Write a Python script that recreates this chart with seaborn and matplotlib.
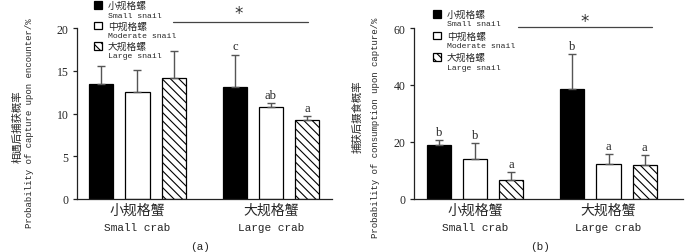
import numpy as np
import pandas as pd
import matplotlib
matplotlib.use("Agg")
import matplotlib.pyplot as plt
from matplotlib.patches import Rectangle
import seaborn as sns

# data
crab = ["小规格蟹", "大规格蟹"]
crab_en = ["Small crab", "Large crab"]
snail = ["小规格螺", "中规格螺", "大规格螺"]
snail_en = ["Small snail", "Moderate snail", "Large snail"]

capture_mean = [13.5, 12.5, 14.2, 13.1, 10.8, 9.2]     # (a) small crab x3, large crab x3
capture_err = [2.1, 2.6, 3.1, 3.8, 0.45, 0.5]
capture_sig = ["", "", "", "c", "ab", "a"]

consume_mean = [18.8, 14.2, 6.5, 38.6, 12.4, 11.8]     # (b)
consume_err = [2.0, 5.3, 3.0, 12.4, 3.3, 3.5]
consume_sig = ["b", "b", "a", "b", "a", "a"]

sns.set_style("ticks")
plt.rcParams["hatch.linewidth"] = 0.8
mono = ["Liberation Mono", "Noto Sans CJK SC"]
cjk = ["Noto Sans CJK SC", "DejaVu Sans"]
serif = "Liberation Serif"

W, H = 700, 253
fig = plt.figure(figsize=(7, 2.53), dpi=100)
ax1 = fig.add_axes([77 / W, 1 - 200 / H, 255 / W, 171 / H])
ax2 = fig.add_axes([414 / W, 1 - 200 / H, 269 / W, 171 / H])

fills = ["black", "white", "white"]
hatches = ["", "", "\\\\\\\\"]


def panel(ax, mean, err, sig, ylim, yticks, xlim, line, star):
    df = pd.DataFrame({
        "crab": np.repeat(crab, 3),
        "snail": snail * 2,
        "val": mean,
    })
    sns.barplot(data=df, x="crab", y="val", hue="snail", order=crab, hue_order=snail,
                palette=fills, width=0.81, gap=0.333, errorbar=None, legend=False,
                edgecolor="black", linewidth=0.9, ax=ax)
    bars = list(ax.containers)
    for h, cont in enumerate(bars):
        for c, bar in enumerate(cont):
            bar.set_hatch(hatches[h])
            i = c * 3 + h
            x = bar.get_x() + bar.get_width() / 2
            top = mean[i] + err[i]
            ax.errorbar(x, mean[i], yerr=[[0], [err[i]]], fmt="none", ecolor="#555555",
                        elinewidth=1.0, capsize=3.2, capthick=1.0, zorder=1)
            if sig[i]:
                ax.annotate(sig[i], (x, top), xytext=(0, 1.5), textcoords="offset points",
                            ha="center", va="bottom", fontsize=9, family=serif)
    ax.set_xlim(xlim)
    ax.set_ylim(ylim)
    ax.set_yticks(yticks)
    ax.set_yticklabels([str(t) for t in yticks], family=serif, fontsize=8.5)
    ax.tick_params(axis="y", length=3, width=0.9, pad=3, color="#222222")
    ax.tick_params(axis="x", length=0, pad=3)
    ax.set_xticks([0, 1])
    ax.set_xticklabels(crab, family=cjk, fontsize=10)
    for k, name in enumerate(crab_en):
        ax.text(k, -0.135, name, transform=ax.get_xaxis_transform(), ha="center", va="top",
                family=mono, fontsize=8)
    sns.despine(ax=ax)
    for s in ["left", "bottom"]:
        ax.spines[s].set_linewidth(0.9)
        ax.spines[s].set_color("#222222")
    ax.set_xlabel("")
    ax.set_ylabel("")
    # significance line between the crab groups
    ax.plot(line[0], [line[1]] * 2, color="#444444", lw=0.9, clip_on=False)
    ax.text(star[0], star[1], "*", ha="center", va="center", fontsize=12,
            family="DejaVu Sans", color="#333333", clip_on=False)


panel(ax1, capture_mean, capture_err, capture_sig, (0, 20), [0, 5, 10, 15, 20],
      (-0.453, 1.457), ([0.266, 1.277], 20.7), (0.755, 21.7))
panel(ax2, consume_mean, consume_err, consume_sig, (0, 60), [0, 20, 40, 60],
      (-0.457, 1.558), ([0.32, 1.326], 60.35), (0.823, 62.3))

# two-line y labels (Chinese above English)
ylab_cn = ["相遇后捕获概率", "捕获后摄食概率"]
ylab_en = ["Probability of capture upon encounter/%",
           "Probability of consumption upon capture/%"]
for x_cn, y_cn, x_en, y_en, cn, en in [(17, 127, 30, 123, ylab_cn[0], ylab_en[0]),
                                      (358, 117, 375, 128, ylab_cn[1], ylab_en[1])]:
    fig.text(x_cn / W, 1 - y_cn / H, cn, family=cjk, fontsize=7.5, rotation=90,
             ha="center", va="center")
    fig.text(x_en / W, 1 - y_en / H, en, family=mono, fontsize=6.5, rotation=90,
             ha="center", va="center")


# hand-placed legends (pixel positions of the reference)
def legend(x0, y0, step):
    for h in range(3):
        yc = y0 + h * step
        fig.patches.append(Rectangle(((x0) / W, 1 - (yc + 3.5) / H), 7.5 / W, 7.5 / H,
                                     transform=fig.transFigure, facecolor=fills[h],
                                     edgecolor="black", linewidth=0.9, hatch=hatches[h]))
        fig.text((x0 + 14) / W, 1 - yc / H, snail[h], family=cjk, fontsize=7, va="center")
        fig.text((x0 + 14) / W, 1 - (yc + 10) / H, snail_en[h], family=mono, fontsize=5.9,
                 va="center")


legend(94, 6, 20.5)
legend(433, 15, 21.5)

fig.text(200 / W, 1 - 247 / H, "(a)", family=mono, fontsize=8, ha="center", va="center")
fig.text(540 / W, 1 - 247 / H, "(b)", family=mono, fontsize=8, ha="center", va="center")

fig.savefig("out.png", dpi=100)
